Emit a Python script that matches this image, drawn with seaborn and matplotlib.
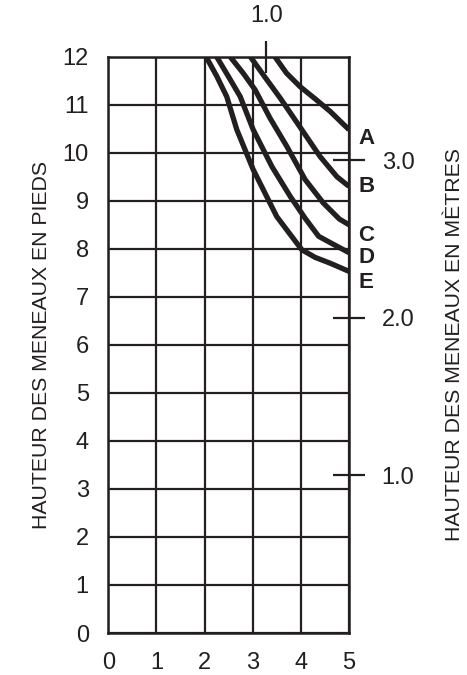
import numpy as np
import pandas as pd
import matplotlib
matplotlib.use("Agg")
import matplotlib.pyplot as plt
import seaborn as sns

# Data (height in feet vs x)
curve_names = ["A", "B", "C", "D", "E"]
a_x = [3.46, 3.70, 3.98, 4.30, 4.61, 5.00]
a_y = [12.0, 11.66, 11.38, 11.12, 10.86, 10.48]
b_x = [2.95, 3.25, 3.57, 4.02, 4.40, 4.75, 5.00]
b_y = [12.0, 11.58, 11.14, 10.48, 9.92, 9.50, 9.30]
c_x = [2.53, 2.80, 3.05, 3.36, 3.71, 4.09, 4.47, 4.80, 5.00]
c_y = [12.0, 11.66, 11.31, 10.72, 10.13, 9.44, 8.95, 8.62, 8.50]
d_x = [2.25, 2.50, 2.74, 3.01, 3.40, 3.78, 4.10, 4.37, 4.70, 5.00]
d_y = [12.0, 11.58, 11.17, 10.48, 9.71, 9.09, 8.62, 8.26, 8.08, 7.92]
e_x = [2.03, 2.25, 2.46, 2.67, 3.01, 3.50, 4.02, 4.30, 4.61, 5.00]
e_y = [12.0, 11.60, 11.17, 10.48, 9.65, 8.67, 7.98, 7.82, 7.70, 7.53]
label_y = [10.3, 9.29, 8.27, 7.82, 7.29]

x_ticks = [0, 1, 2, 3, 4, 5]
y_ticks = list(range(0, 13))
meter_ticks_right = [1.0, 2.0, 3.0]
meter_ticks_top = [1.0]

FT_PER_M = 3.28084

frames = []
for name, xs, ys in zip(curve_names, [a_x, b_x, c_x, d_x, e_x], [a_y, b_y, c_y, d_y, e_y]):
    frames.append(pd.DataFrame({"x": xs, "y": ys, "curve": name}))
df = pd.concat(frames, ignore_index=True)

sns.set_style("white")
plt.rcParams["font.family"] = ["Liberation Sans", "DejaVu Sans"]

fig = plt.figure(figsize=(4.67, 6.75), dpi=100)
ax = fig.add_axes([0.2319, 0.0622, 0.7473 - 0.2319, 0.916 - 0.0622])

sns.lineplot(data=df, x="x", y="y", hue="curve", units="curve", estimator=None,
             sort=False, palette=["#231f20"] * 5, linewidth=3.8, legend=False, ax=ax)
for ln in ax.lines:
    ln.set_solid_joinstyle("round")
    ln.set_solid_capstyle("butt")

ax.set_xlim(0, 5)
ax.set_ylim(0, 12)
ax.set_xticks(x_ticks)
ax.set_yticks(y_ticks)
ax.grid(True, color="#231f20", linewidth=1.6)
for s in ax.spines.values():
    s.set_color("#231f20")
    s.set_linewidth(1.8)
ax.tick_params(axis="both", length=0, labelsize=17, colors="#231f20", pad=14)
ax.set_xlabel("")
ax.set_ylabel("HAUTEUR DES MENEAUX EN PIEDS", fontsize=15.3, color="#231f20", labelpad=8)

for name, yv in zip(curve_names, label_y):
    ax.text(5.2, yv, name, fontsize=16, fontweight="bold", color="#231f20",
            ha="left", va="center", clip_on=False)

right = ax.secondary_yaxis("right", functions=(lambda f: f / FT_PER_M, lambda m: m * FT_PER_M))
right.set_yticks(meter_ticks_right)
right.set_yticklabels([f"{v:.1f}" for v in meter_ticks_right])
right.tick_params(direction="inout", length=23, width=1.6, labelsize=17, colors="#231f20", pad=12)
right.spines["right"].set_visible(False)
right.set_ylabel("HAUTEUR DES MENEAUX EN MÈTRES", fontsize=15.3, color="#231f20", labelpad=22)

top = ax.secondary_xaxis("top", functions=(lambda f: f / FT_PER_M, lambda m: m * FT_PER_M))
top.set_xticks(meter_ticks_top)
top.set_xticklabels([f"{v:.1f}" for v in meter_ticks_top])
top.tick_params(direction="inout", length=23, width=1.6, labelsize=17, colors="#231f20", pad=10)
top.spines["top"].set_visible(False)

fig.savefig("out.png", dpi=100)
